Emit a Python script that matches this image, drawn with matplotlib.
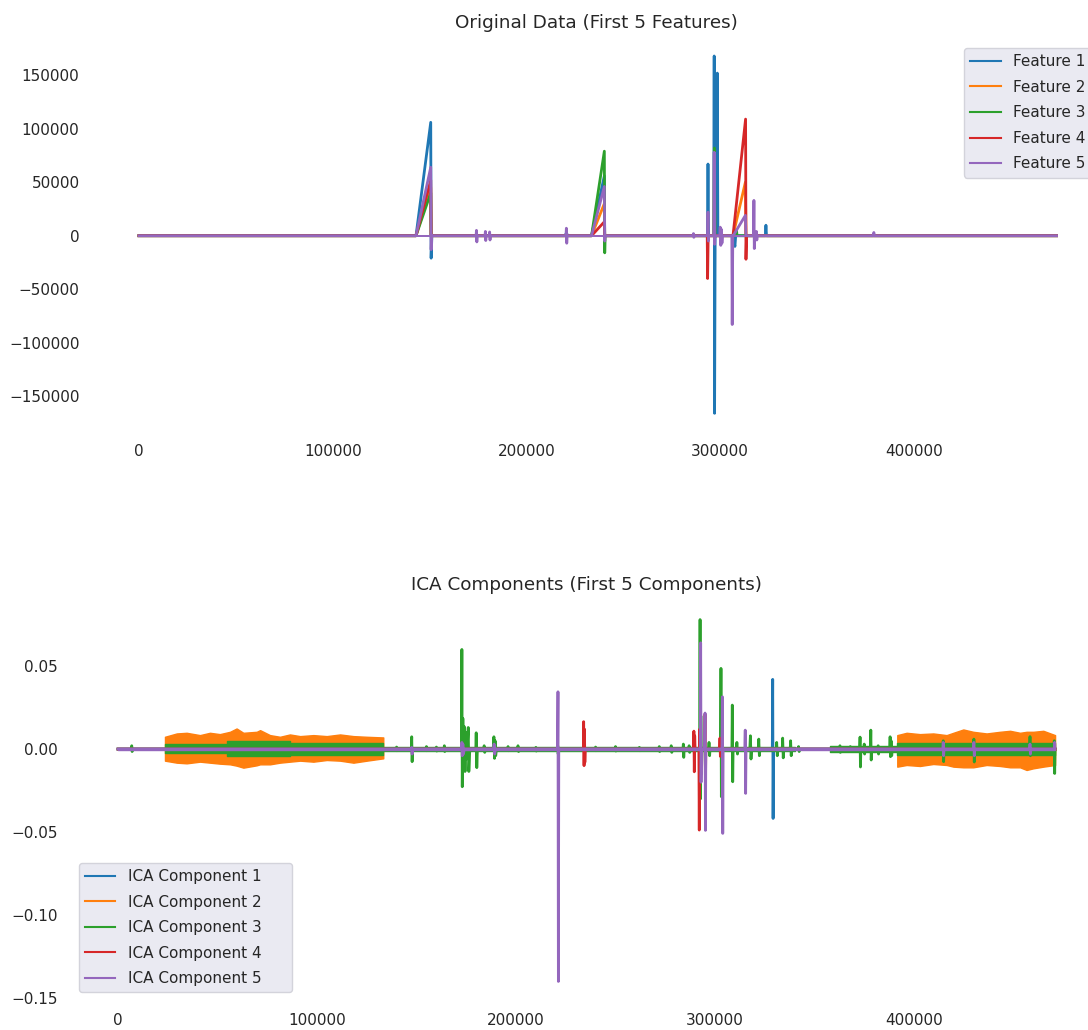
import matplotlib
matplotlib.use("Agg")
import matplotlib.pyplot as plt

# =====================================================
# DADOS - ORIGINAL (pontos-chave)
# =====================================================
FEATURE_LABELS = ["Feature 1", "Feature 2", "Feature 3", "Feature 4", "Feature 5"]

feat1_x = [0, 143000, 150600, 150800, 151200, 219500, 220700, 221500, 233600, 240200, 240400,
           241000, 293400, 293700, 294000, 296700, 296900, 297100, 297400, 298200, 298500,
           298800, 306600, 307600, 308000, 323300, 323600, 323900, 473600]
feat1_y = [0, 0, 106000, -21000, 0, 0, 2000, 0, 0, 56000, 0,
           0, 0, 67000, 0, 0, 168000, -166000, 0, 0, 152000,
           0, 0, -10000, 0, 0, 9800, 0, 0]

feat2_x = [0, 143000, 150600, 150800, 233600, 240200, 240400, 296800, 297000, 297200,
           306600, 313000, 313300, 473600]
feat2_y = [0, 0, 45000, 0, 0, 30000, 0, 0, 80000, 0,
           0, 50000, 0, 0]

feat3_x = [0, 143000, 150600, 150800, 233600, 240200, 240400, 240600, 296800, 297000,
           297300, 306600, 308400, 308700, 473600]
feat3_y = [0, 0, 40000, 0, 0, 79000, -16000, 0, 0, 82000,
           0, 0, 5000, 0, 0]

feat4_x = [0, 143000, 150600, 150800, 233600, 240200, 240400, 293300, 293500, 293800,
           306600, 313100, 313300, 313600, 473600]
feat4_y = [0, 0, 52000, 0, 0, 13000, 0, 0, -40000, 0,
           0, 109000, -22000, 0, 0]

feat5_x = [0, 143000, 150600, 150800, 151100,
           174000, 174200, 174400, 174600,
           178600, 178800, 179000, 179200,
           180800, 181000, 181200, 181400,
           220400, 220600, 220800, 221000,
           233600, 240200, 240400, 240700,
           286000, 286200, 286400, 286600,
           293500, 293700, 293900, 294100,
           296700, 296900, 297100, 297300,
           299800, 300000, 300300, 300600, 300900, 301200,
           306000, 306200, 306500,
           306700, 313000, 313300,
           317200, 317400, 317600, 317800,
           318500, 318700, 318900, 319100,
           379100, 379300, 379500,
           473600]
feat5_y = [0, 0, 64000, -13000, 0,
           0, 5000, -5800, 0,
           0, 4000, -4500, 0,
           0, 3500, -4000, 0,
           0, 7000, -7000, 0,
           0, 46000, -5000, 0,
           0, 2000, -1500, 0,
           0, 22000, -5000, 0,
           0, 78000, -8000, 0,
           0, 8000, -9000, 6000, -7000, 0,
           0, -83000, 0,
           0, 19000, 0,
           0, 33000, -12000, 0,
           0, 4000, -4000, 0,
           0, 3000, 0,
           0]
# ruido de base do feature 5 (espessura da linha)
feat5_band_x = [0, 473600]
feat5_band_top = [1000, 1000]
feat5_band_bot = [-1000, -1000]

# =====================================================
# DADOS - ICA
# =====================================================
ICA_LABELS = ["ICA Component 1", "ICA Component 2", "ICA Component 3",
              "ICA Component 4", "ICA Component 5"]

ica1_x = [0, 328800, 329000, 329200, 329400, 470900]
ica1_y = [0, 0, 0.042, -0.0418, 0, 0]

ica2_x = [0, 470900]
ica2_y = [0, 0]
# faixas de ruido do componente 2 (envelope)
ica2_band1_x = [23600, 29500, 34500, 41200, 46200, 51200, 56300, 59600, 63000, 69700, 71400,
                76400, 81400, 86400, 91500, 98200, 104900, 111600, 118300, 125000, 133300]
ica2_band1_top = [0.0074, 0.0094, 0.0098, 0.0084, 0.0098, 0.0090, 0.0104, 0.0124, 0.0098, 0.0104,
                  0.0114, 0.0084, 0.0074, 0.0088, 0.0078, 0.0084, 0.0078, 0.0088, 0.0078, 0.0074, 0.0070]
ica2_band1_bot = [-0.0070, -0.0082, -0.0086, -0.0076, -0.0082, -0.0088, -0.0092, -0.0100, -0.0112,
                  -0.0098, -0.0092, -0.0092, -0.0082, -0.0076, -0.0070, -0.0076, -0.0066, -0.0070,
                  -0.0082, -0.0070, -0.0056]
ica2_band2_x = [391600, 396300, 403000, 409700, 416400, 419800, 424800, 429800, 436500, 443200,
                448300, 453300, 456600, 460000, 465000, 470900]
ica2_band2_top = [0.0084, 0.0098, 0.0090, 0.0094, 0.0084, 0.0098, 0.0118, 0.0104, 0.0094, 0.0104,
                  0.0110, 0.0098, 0.0104, 0.0104, 0.0110, 0.0084]
ica2_band2_bot = [-0.0106, -0.0096, -0.0102, -0.0090, -0.0096, -0.0106, -0.0110, -0.0110, -0.0096,
                  -0.0102, -0.0110, -0.0110, -0.0126, -0.0116, -0.0106, -0.0096]

ica3_x = [0, 6700, 6900, 7100, 7300,
          139800, 140000, 140200, 140400,
          147400, 147600, 147800, 148000,
          154800, 155000, 155200, 155400,
          159800, 160000, 160200, 160400,
          163800, 164000, 164200, 164400,
          172600, 172800, 173000, 173300, 173600, 174000, 174400, 174800, 175200, 176000, 176300, 176800,
          179800, 180000, 180300, 180600,
          183800, 184000, 184300, 184500,
          188600, 188900, 189200, 189500, 189800, 190200,
          195800, 196000, 196200, 196400,
          200800, 201000, 201300, 201500,
          209800, 210000, 210200, 210400,
          220800, 221000, 221200, 221400,
          239800, 240000, 240200, 240400,
          249800, 250000, 250200, 250400,
          261800, 262000, 262300, 262500,
          271800, 272000, 272200, 272400,
          277800, 278000, 278300, 278500,
          283900, 284100, 284300, 284500,
          286800, 287000, 287300, 287500,
          292300, 292500, 292700, 292900, 293200, 293500,
          296800, 297000, 297300, 297500,
          302800, 303000, 303200, 303400,
          308500, 308700, 308900, 309100,
          310800, 311000, 311300, 311500,
          317500, 317800, 318100, 318400,
          321800, 322000, 322300, 322600,
          330800, 331000, 331300, 331500,
          333800, 334000, 334300, 334600,
          337800, 338000, 338300, 338600,
          341800, 342000, 342300, 342500,
          362600, 362800, 363000, 363200,
          367800, 368000, 368200, 368400,
          372700, 372900, 373100, 373300,
          374800, 375000, 375200, 375400,
          378100, 378300, 378500, 378700,
          381800, 382000, 382200, 382400,
          387800, 388000, 388200, 388500, 388800, 389100,
          414500, 414700, 414900, 415100,
          429900, 430100, 430300, 430500,
          458100, 458300, 458500, 458700,
          470300, 470500, 470700, 470900]
ica3_y = [0, 0, 0.002, -0.0015, 0,
          0, 0.0012, -0.001, 0,
          0, 0.0074, -0.0076, 0,
          0, 0.0015, -0.001, 0,
          0, 0.0012, -0.0012, 0,
          0, 0.002, -0.0015, 0,
          0, 0.060, -0.0227, 0.0185, -0.010, 0.0135, -0.0135, 0.010, -0.006, 0.013, -0.0135, 0,
          0, 0.0098, -0.0112, 0,
          0, 0.002, -0.002, 0,
          0, 0.0074, -0.0056, 0.005, -0.004, 0,
          0, 0.0015, -0.001, 0,
          0, 0.002, -0.0015, 0,
          0, 0.001, -0.0012, 0,
          0, 0.002, -0.003, 0,
          0, 0.0012, -0.001, 0,
          0, 0.0015, -0.0012, 0,
          0, 0.001, -0.001, 0,
          0, 0.0015, -0.0015, 0,
          0, 0.002, -0.002, 0,
          0, 0.003, -0.005, 0,
          0, 0.002, -0.002, 0,
          0, 0.078, -0.030, 0.020, -0.015, 0,
          0, 0.004, -0.004, 0,
          0, 0.0486, -0.0287, 0,
          0, 0.0265, -0.0197, 0,
          0, 0.004, -0.003, 0,
          0, 0.008, -0.006, 0,
          0, 0.006, -0.004, 0,
          0, 0.004, -0.004, 0,
          0, 0.0066, -0.0053, 0,
          0, 0.005, -0.004, 0,
          0, 0.0015, -0.0015, 0,
          0, 0.002, -0.002, 0,
          0, 0.0015, -0.0015, 0,
          0, 0.0072, -0.0108, 0,
          0, 0.003, -0.003, 0,
          0, 0.0114, -0.0066, 0,
          0, 0.002, -0.003, 0,
          0, 0.0074, -0.0046, 0.005, -0.004, 0,
          0, 0.005, -0.0076, 0,
          0, 0.006, -0.0078, 0,
          0, 0.0075, -0.004, 0,
          0, 0.005, -0.0147, 0]
# faixas do componente 3
ica3_band1_x = [23600, 54600, 54600, 86400, 86400, 133300]
ica3_band1_top = [0.0028, 0.0028, 0.0050, 0.0050, 0.0038, 0.0038]
ica3_band1_bot = [-0.0024, -0.0024, -0.0042, -0.0042, -0.0036, -0.0036]
ica3_band2_x = [391600, 470900]
ica3_band2_top = [0.0034, 0.0034]
ica3_band2_bot = [-0.0036, -0.0036]
ica3_band3_x = [133300, 340000]
ica3_band3_top = [0.0014, 0.0014]
ica3_band3_bot = [-0.0014, -0.0014]
ica3_band4_x = [358000, 391600]
ica3_band4_top = [0.0016, 0.0016]
ica3_band4_bot = [-0.0016, -0.0016]

ica4_x = [0, 233900, 234000, 234200, 234400, 234600, 234800,
          289200, 289400, 289600, 289800, 290000,
          291900, 292100, 292300, 292500,
          294800, 295000, 295200, 295400,
          302300, 302500, 302700, 302900,
          470900]
ica4_y = [0, 0, 0.0165, -0.010, 0.012, -0.008, 0,
          0, 0.0108, -0.0137, 0.008, 0,
          0, -0.0488, 0.012, 0,
          0, 0.021, -0.0208, 0,
          0, 0.0066, -0.0044, 0,
          0]

ica5_x = [0, 147400, 147600, 147800, 148000,
          172600, 172800, 173000, 173300, 173600, 174000,
          188800, 189000, 189300, 189600,
          220900, 221100, 221300, 221500,
          292600, 292800, 293000, 293200,
          294800, 295000, 295200, 295400,
          303500, 303700, 303900, 304100,
          315000, 315200, 315400, 315600,
          414500, 414700, 414900, 415100,
          429900, 430100, 430300, 430500,
          458100, 458300, 458500, 458700,
          470500, 470700, 470900]
ica5_y = [0, 0, 0.001, -0.003, 0,
          0, 0.004, -0.004, 0.003, -0.003, 0,
          0, 0.003, -0.003, 0,
          0, 0.0345, -0.140, 0,
          0, 0.064, -0.020, 0,
          0, 0.0217, -0.049, 0,
          0, 0.0315, -0.0508, 0,
          0, 0.0114, -0.0267, 0,
          0, 0.004, -0.004, 0,
          0, 0.004, -0.004, 0,
          0, 0.003, -0.003, 0,
          0, 0.004, 0]
# ruido de base do componente 5
ica5_band_x = [0, 470900]
ica5_band_top = [0.0007, 0.0007]
ica5_band_bot = [-0.0007, -0.0007]

COLORS = ["#1f77b4", "#ff7f0e", "#2ca02c", "#d62728", "#9467bd"]

# =====================================================
# ESTILO
# =====================================================
plt.rcParams.update({
    "font.family": "DejaVu Sans",
    "text.color": "#262626",
    "xtick.color": "#262626",
    "ytick.color": "#262626",
    "xtick.labelsize": 11,
    "ytick.labelsize": 11,
    "axes.titlesize": 13.2,
    "legend.fontsize": 11,
    "legend.labelspacing": 0.69,
    "lines.linewidth": 2.0,
})

fig = plt.figure(figsize=(10.88, 10.30), dpi=100)

ax1 = fig.add_axes([0.0855, 0.5816, 0.9246, 0.3791])
ax2 = fig.add_axes([0.0653, 0.0291, 0.9476, 0.3874])

for ax in (ax1, ax2):
    ax.set_facecolor("white")
    for s in ax.spines.values():
        s.set_visible(False)
    ax.tick_params(length=0, pad=9.7)

# =====================================================
# 1. ORIGINAL
# =====================================================
feats = [(feat1_x, feat1_y), (feat2_x, feat2_y), (feat3_x, feat3_y),
         (feat4_x, feat4_y), (feat5_x, feat5_y)]
for i, (xs, ys) in enumerate(feats):
    ax1.plot(xs, ys, color=COLORS[i], label=FEATURE_LABELS[i], zorder=2 + i)
ax1.fill_between(feat5_band_x, feat5_band_bot, feat5_band_top, color=COLORS[4],
                 linewidth=0, zorder=6)

ax1.set_xlim(-23700, 495500)
ax1.set_ylim(-182500, 182500)
ax1.set_title("Original Data (First 5 Features)", pad=9)
leg1 = ax1.legend(loc="upper right", facecolor="#EAEAF2", edgecolor="#D3D3DB", framealpha=1)
for ln in leg1.get_lines():
    ln.set_linewidth(1.5)

# =====================================================
# 2. ICA
# =====================================================
ica_lines = [(ica1_x, ica1_y), (ica2_x, ica2_y), (ica3_x, ica3_y),
             (ica4_x, ica4_y), (ica5_x, ica5_y)]
for i, (xs, ys) in enumerate(ica_lines):
    ax2.plot(xs, ys, color=COLORS[i], label=ICA_LABELS[i], zorder=2 + i)

bands = [
    (1, ica2_band1_x, ica2_band1_top, ica2_band1_bot),
    (1, ica2_band2_x, ica2_band2_top, ica2_band2_bot),
    (2, ica3_band1_x, ica3_band1_top, ica3_band1_bot),
    (2, ica3_band2_x, ica3_band2_top, ica3_band2_bot),
    (2, ica3_band3_x, ica3_band3_top, ica3_band3_bot),
    (2, ica3_band4_x, ica3_band4_top, ica3_band4_bot),
    (4, ica5_band_x, ica5_band_top, ica5_band_bot),
]
for i, bx, btop, bbot in bands:
    ax2.fill_between(bx, bbot, btop, color=COLORS[i], linewidth=1.0, zorder=2 + i)

ax2.set_xlim(-23600, 494500)
ax2.set_ylim(-0.1512, 0.0892)
ax2.set_title("ICA Components (First 5 Components)", pad=8)
leg2 = ax2.legend(loc="lower left", bbox_to_anchor=(0, 0, 0.2213, 1), mode="expand",
                  facecolor="#EAEAF2", edgecolor="#D3D3DB", framealpha=1)
for ln in leg2.get_lines():
    ln.set_linewidth(1.5)

fig.savefig("out.png", dpi=100)
plt.close(fig)
